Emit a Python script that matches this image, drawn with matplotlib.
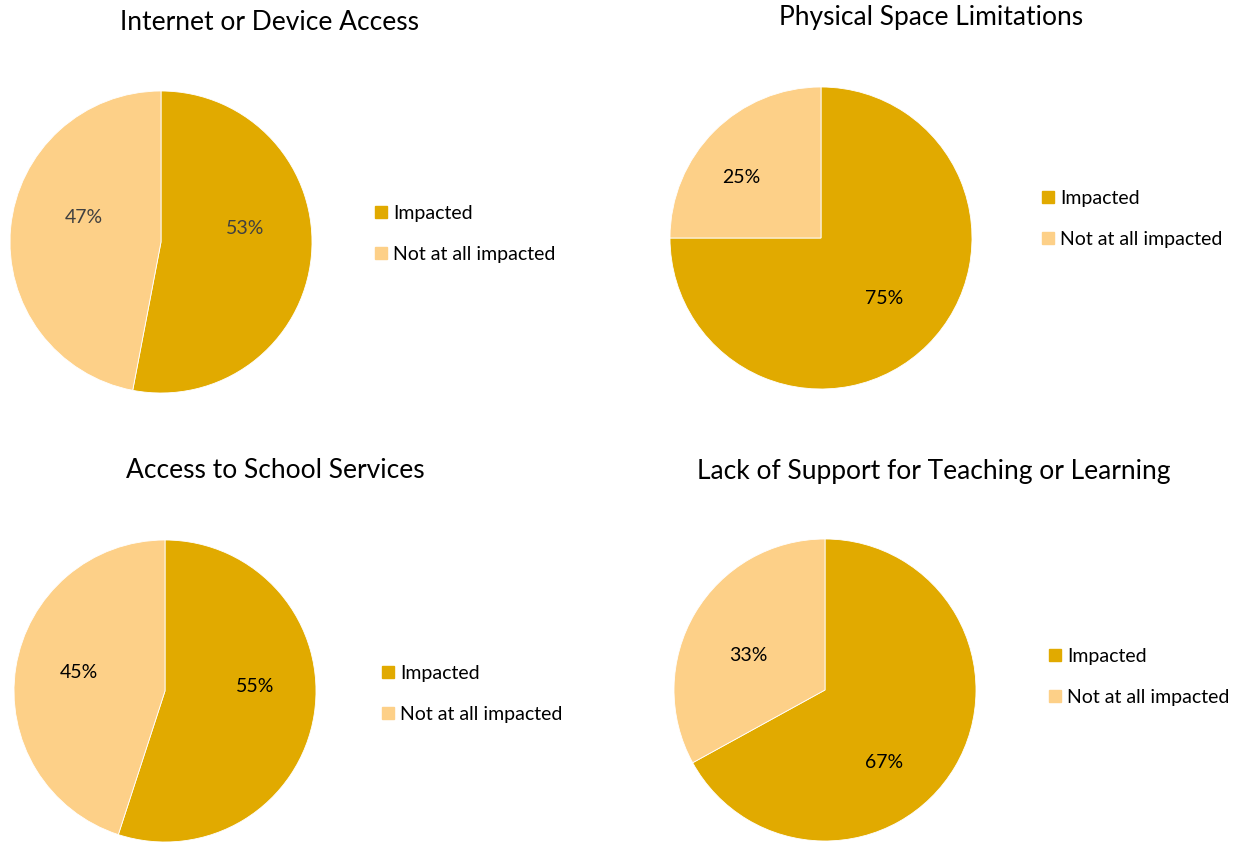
import matplotlib
matplotlib.use("Agg")
import matplotlib.pyplot as plt
from matplotlib.lines import Line2D

plt.rcParams['font.family'] = ['Lato', 'DejaVu Sans']

titles = ["Internet or Device Access", "Physical Space Limitations",
          "Access to School Services", "Lack of Support for Teaching or Learning"]
categories = ["Impacted", "Not at all impacted"]
impacted = [53, 75, 55, 67]
not_impacted = [47, 25, 45, 33]
colors = ["#E1AA00", "#FDD088"]
label_colors = ["#404040", "#000000", "#000000", "#000000"]

W, H = 1248, 842
fig = plt.figure(figsize=(W / 100, H / 100), dpi=100)
fig.patch.set_facecolor("white")

# pie centre (px), radius (px), title centre (px), legend anchor (px),
# and percentage label positions in pie-radius units
layout = [
    dict(c=(161, 242), r=151, t=(270, 22), leg=(370, 234),
         lab=[(0.56, 0.09), (-0.51, 0.16)]),
    dict(c=(821, 238), r=151, t=(931, 18), leg=(1037, 219),
         lab=[(0.42, -0.40), (-0.53, 0.40)]),
    dict(c=(165, 691), r=151, t=(275, 471), leg=(377, 694),
         lab=[(0.60, 0.03), (-0.57, 0.12)]),
    dict(c=(825, 690), r=151, t=(934, 471), leg=(1044, 677),
         lab=[(0.39, -0.48), (-0.51, 0.23)]),
]

def fx(x):
    return x / W

def fy(y):
    return 1 - y / H

for i, spec in enumerate(layout):
    cx, cy = spec["c"]
    r = spec["r"]
    ax = fig.add_axes([fx(cx - r), fy(cy + r), 2 * r / W, 2 * r / H])
    vals = [impacted[i], not_impacted[i]]
    wedges, _, autotexts = ax.pie(
        vals, colors=colors, startangle=90, counterclock=False,
        autopct=lambda p: f"{p:.0f}%", pctdistance=0.58,
        wedgeprops=dict(edgecolor="white", linewidth=0.6),
        textprops=dict(fontsize=14, color=label_colors[i]))
    for t, pos in zip(autotexts, spec["lab"]):
        t.set_position(pos)
    ax.set_aspect("equal")
    ax.set_xlim(-1, 1)
    ax.set_ylim(-1, 1)
    tx, ty = spec["t"]
    fig.text(fx(tx), fy(ty), titles[i], ha="center", va="center",
             fontsize=19, color="black")
    handles = [Line2D([], [], marker="s", linestyle="none", markersize=8,
                      markerfacecolor=c, markeredgecolor=c) for c in colors]
    lx, ly = spec["leg"]
    fig.legend(handles, categories, loc="center left",
               bbox_to_anchor=(fx(lx - 6), fy(ly)), frameon=False,
               fontsize=14, handlelength=0.7, handletextpad=0.3,
               labelspacing=1.25, borderpad=0)

fig.savefig("out.png", dpi=100, facecolor="white")
